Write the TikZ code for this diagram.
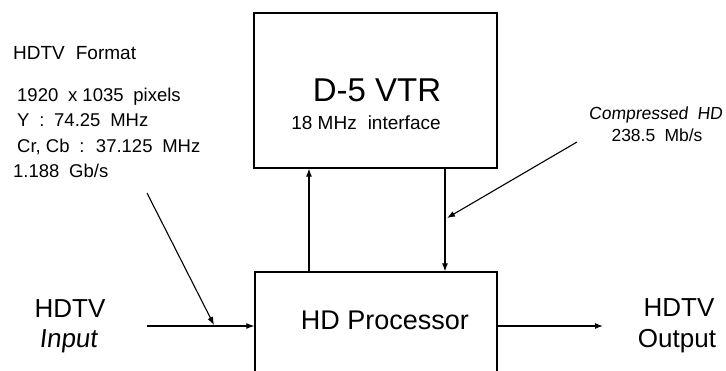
\documentclass[tikz,border=0pt]{standalone}
\usepackage{fontspec}
\setmainfont{Liberation Sans}
\newfontfamily\myslant[FakeSlant=0.12]{Liberation Sans}
\usetikzlibrary{arrows.meta}
\begin{document}
\begin{tikzpicture}[x=1pt,y=-1pt,
  box/.style={draw,line width=1.3pt,rectangle,inner sep=0pt},
  conn/.style={line width=1.1pt},
  arr/.style={conn,-{Latex[length=8pt,width=6pt]}},
  txt/.style={inner sep=0pt,anchor=base west},
  ctxt/.style={inner sep=0pt,anchor=base},
  f19/.style={font=\fontsize{19}{23}\selectfont},
  f18/.style={font=\fontsize{18.5}{22}\selectfont},
  f17/.style={font=\fontsize{17.5}{21}\selectfont\myslant},
  f17u/.style={font=\fontsize{17.5}{21}\selectfont},
  f26/.style={font=\fontsize{26}{30}\selectfont},
  f26i/.style={font=\fontsize{26}{30}\selectfont\myslant},
  f27/.style={font=\fontsize{27}{31}\selectfont},
  f33/.style={font=\fontsize{33}{38}\selectfont}]
\useasboundingbox (0,0) rectangle (726,371);
\clip (0,0) rectangle (726,371);
\fill[white] (0,0) rectangle (726,371);

% boxes
\node[box,minimum width=243pt,minimum height=155pt] (vtr) at (375.5,90.5) {};
\node[box,minimum width=242pt,minimum height=160pt] (proc) at (376,352) {};

% texts in boxes
\node[ctxt,f33] (vtrname) at (377,102) {D-5 VTR};
\node[ctxt,f19] (vtrif) at (366,130) {18 MHz\hspace{0.3em} interface};
\node[ctxt,f27] (procname) at (385,330) {HD Processor};

% format text
\node[txt,f19] (fmt) at (13,60) {HDTV\hspace{0.3em} Format};
\node[txt,f18] (fmt1) at (17,102) {1920\hspace{0.25em} x 1035\hspace{0.25em} pixels};
\node[txt,f18] (fmt2) at (17,127) {Y\hspace{0.25em} :\hspace{0.25em} 74.25\hspace{0.25em} MHz};
\node[txt,f18] (fmt3) at (17,153) {Cr, Cb\hspace{0.25em} :\hspace{0.25em} 37.125\hspace{0.25em} MHz};
\node[txt,f18] (fmt4) at (13,178) {1.188\hspace{0.25em} Gb/s};

% compressed text
\node[ctxt,f17] (cmp1) at (655.5,120) {Compressed\hspace{0.25em} HD};
\node[ctxt,f17u] (cmp2) at (657,142) {238.5\hspace{0.25em} Mb/s};

% input / output
\node[ctxt,f26] (in1) at (70,318) {HDTV};
\node[ctxt,f26i] (in2) at (68,348) {Input};
\node[ctxt,f26] (out1) at (679,317) {HDTV};
\node[ctxt,f26] (out2) at (677,348) {Output};

% connectors
\coordinate (inA) at (147,326);
\draw[arr] (inA) -- (inA -| proc.west);
\coordinate (outB) at (603,326);
\draw[arr] (outB -| proc.east) -- (outB);
\coordinate (up) at (309,0);
\draw[arr] (up |- proc.north) -- (up |- vtr.south);
\coordinate (dn) at (445,0);
\draw[arr] (dn |- vtr.south) -- (dn |- proc.north);
\coordinate (cs) at (577,142);
\coordinate (ce) at (447,218);
\draw[arr] (cs) -- (ce);
\coordinate (fs) at (147,193);
\coordinate (fe) at (214,325);
\draw[arr] (fs) -- (fe);
\end{tikzpicture}
\end{document}
